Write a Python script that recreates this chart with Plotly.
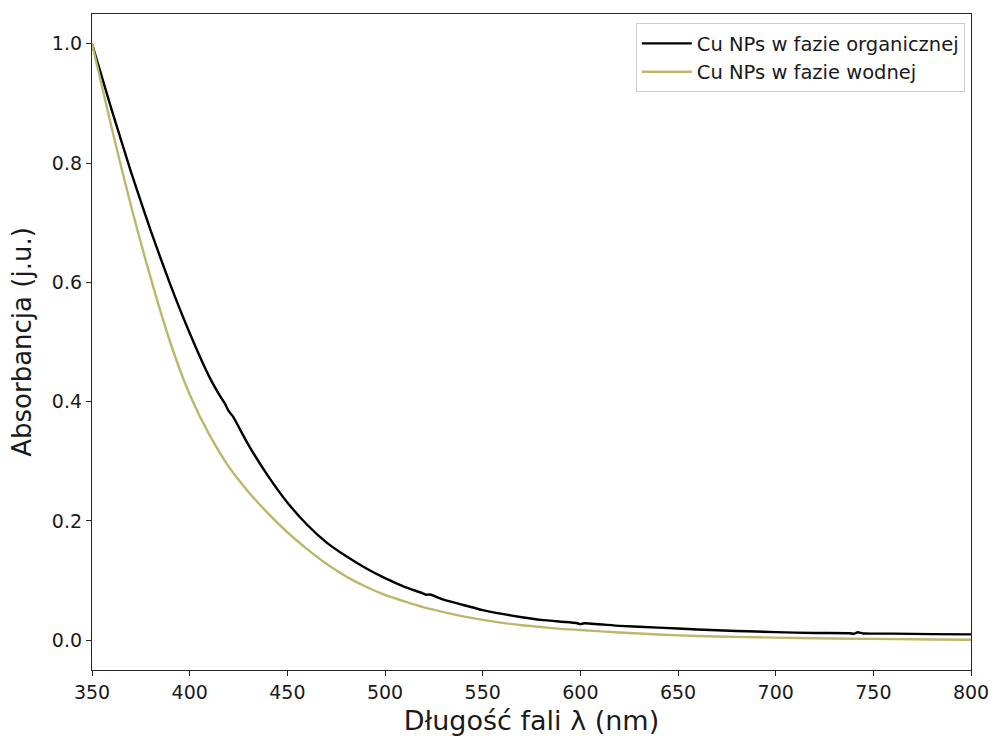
import plotly.graph_objects as go

# Wavelengths (nm) and absorbance
wl_org = [350, 360, 370, 380, 390, 400, 410, 416, 418, 420, 422, 430, 440, 450, 460, 470, 480,
          490, 500, 510, 519, 521, 523, 530, 540, 550, 560, 570, 580, 590, 598, 600, 602, 620,
          640, 660, 680, 700, 720, 738, 740, 742, 745, 760, 780, 800]
abs_org = [1.000, 0.890, 0.785, 0.687, 0.597, 0.515, 0.442, 0.407, 0.397, 0.384, 0.376, 0.328,
           0.276, 0.231, 0.194, 0.164, 0.141, 0.121, 0.104, 0.0895, 0.0790, 0.0762, 0.0765,
           0.068, 0.059, 0.0505, 0.044, 0.0385, 0.034, 0.031, 0.0288, 0.0270, 0.0283, 0.024,
           0.021, 0.018, 0.0155, 0.0135, 0.012, 0.0117, 0.0108, 0.0133, 0.0112, 0.011, 0.0102,
           0.0097]

wl_aq = [350, 360, 370, 380, 390, 400, 410, 420, 430, 440, 450, 460, 470, 480, 490, 500, 510,
         520, 530, 540, 550, 560, 570, 580, 590, 600, 620, 640, 660, 680, 700, 720, 740, 760,
         780, 800]
abs_aq = [1.000, 0.860, 0.728, 0.608, 0.500, 0.412, 0.345, 0.291, 0.249, 0.213, 0.181, 0.153,
          0.128, 0.107, 0.090, 0.076, 0.065, 0.055, 0.047, 0.040, 0.034, 0.029, 0.025, 0.022,
          0.019, 0.017, 0.013, 0.0095, 0.007, 0.0055, 0.0043, 0.0033, 0.0025, 0.0018, 0.0012,
          0.0008]

x_ticks = [350, 400, 450, 500, 550, 600, 650, 700, 750, 800]
y_ticks = [0.0, 0.2, 0.4, 0.6, 0.8, 1.0]

font = "DejaVu Sans"
txt = "#1a1a1a"
fig = go.Figure()
fig.add_trace(go.Scatter(x=wl_org, y=abs_org, mode="lines", name="Cu NPs w fazie organicznej",
                         line=dict(color="black", width=2.4, shape="spline", smoothing=0.5)))
fig.add_trace(go.Scatter(x=wl_aq, y=abs_aq, mode="lines", name="Cu NPs w fazie wodnej",
                         line=dict(color="#BDB76B", width=2.4, shape="spline", smoothing=0.8)))

axis_common = dict(showline=True, linecolor="#262626", linewidth=1.3, mirror=True,
                   ticks="outside", ticklen=5, tickwidth=1.3, tickcolor="#262626",
                   showgrid=False, zeroline=False, automargin=False,
                   tickfont=dict(family=font, size=19, color=txt))
fig.update_xaxes(range=[350, 800], tickvals=x_ticks, **axis_common,
                 title=dict(text="Długość fali λ (nm)", font=dict(family=font, size=27, color=txt),
                            standoff=9))
fig.update_yaxes(range=[-0.05, 1.05], tickvals=y_ticks, tickformat=".1f", **axis_common,
                 title=dict(text="Absorbancja (j.u.)", font=dict(family=font, size=26, color=txt),
                            standoff=12))
fig.update_layout(
    width=993, height=737,
    margin=dict(l=92, r=22, t=14, b=67),
    plot_bgcolor="white", paper_bgcolor="white",
    font=dict(family=font),
    legend=dict(x=0.993, y=0.986, xanchor="right", yanchor="top", itemwidth=50,
                bgcolor="rgba(255,255,255,0.8)", bordercolor="#cccccc", borderwidth=1,
                font=dict(family=font, size=19.5, color=txt), tracegroupgap=0),
    showlegend=True,
)
fig.write_html("out.html")
